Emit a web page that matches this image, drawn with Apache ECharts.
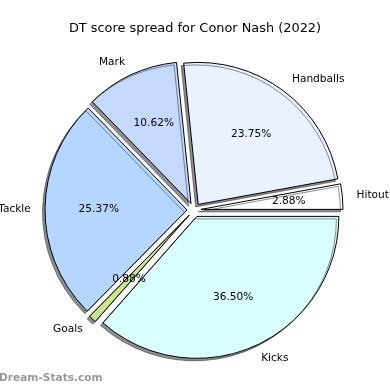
<!DOCTYPE html>
<html>
<head>
<meta charset="utf-8">
<script src="https://cdn.jsdelivr.net/npm/echarts@6/dist/echarts.min.js"></script>
<style>
html,body{margin:0;padding:0;background:#fff;}
#chart{width:390px;height:390px;}
</style>
</head>
<body>
<div id="chart"></div>
<script>
const categories = ['Hitout', 'Handballs', 'Mark', 'Tackle', 'Goals', 'Kicks'];
const percentages = [2.88, 23.75, 10.62, 25.37, 0.88, 36.50];
const sliceColors = ['#ffffff', '#eaf1ff', '#c5d9ff', '#b5d6ff', '#c9e68c', '#d9ffff'];
const titleText = 'DT score spread for Conor Nash (2022)';
const watermarkText = 'Dream-Stats.com';

const font = 'DejaVu Sans';
const R = 142;
const C = [194, 210];
const OFF = 7;

const wedgeData = categories.map((name, i) => ({
  name: name,
  value: percentages[i],
  selected: true,
  itemStyle: { color: sliceColors[i] }
}));
const labelData = categories.map((name, i) => ({
  name: name,
  value: percentages[i],
  selected: true
}));

const chart = echarts.init(document.getElementById('chart'), null, { renderer: 'canvas' });
chart.setOption({
  animation: false,
  backgroundColor: '#fff',
  title: [
    {
      text: titleText,
      left: 'center',
      top: 17,
      textStyle: { fontFamily: font, fontSize: 12.9, fontWeight: 'normal', color: '#000' }
    },
    {
      text: watermarkText,
      left: -1,
      top: 373,
      padding: 0,
      textStyle: { fontFamily: font, fontSize: 10.6, fontWeight: 'bold', color: '#999' }
    }
  ],
  series: [
    {
      type: 'pie',
      center: C,
      radius: [0, R],
      startAngle: 0,
      clockwise: false,
      selectedMode: 'multiple',
      selectedOffset: OFF,
      avoidLabelOverlap: false,
      silent: true,
      itemStyle: {
        borderColor: '#000',
        borderWidth: 1,
        shadowColor: 'rgba(50,50,55,0.55)',
        shadowBlur: 0,
        shadowOffsetX: -2.5,
        shadowOffsetY: 2.5
      },
      select: { itemStyle: { borderColor: '#000', borderWidth: 1 } },
      emphasis: { disabled: true },
      label: {
        show: true,
        position: 'outside',
        formatter: '{b}',
        fontFamily: font,
        fontSize: 10.6,
        color: '#000',
        distanceToLabelLine: 0
      },
      labelLine: { show: false, length: R * 0.1, length2: 0 },
      data: wedgeData
    },
    {
      type: 'pie',
      center: C,
      radius: [0, R * 1.2],
      startAngle: 0,
      clockwise: false,
      selectedMode: 'multiple',
      selectedOffset: OFF,
      avoidLabelOverlap: false,
      silent: true,
      z: 5,
      itemStyle: { color: 'rgba(0,0,0,0)', borderWidth: 0 },
      emphasis: { disabled: true },
      label: {
        show: true,
        position: 'inside',
        formatter: p => p.value.toFixed(2) + '%',
        fontFamily: font,
        fontSize: 10.6,
        color: '#000'
      },
      labelLine: { show: false },
      data: labelData
    }
  ]
});
</script>
</body>
</html>
